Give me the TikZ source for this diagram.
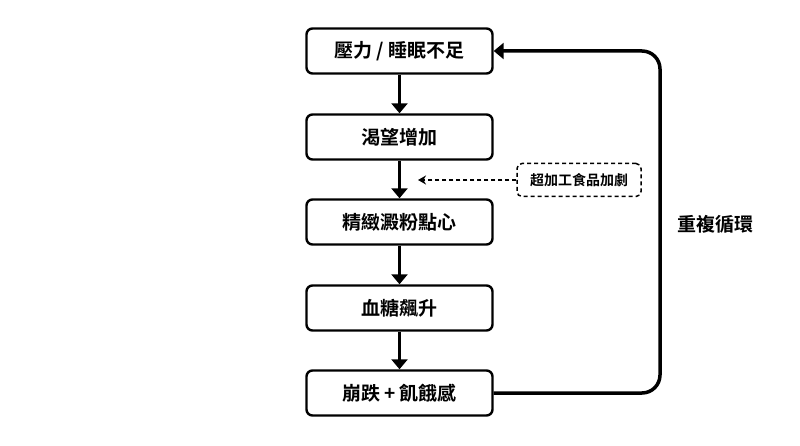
\documentclass[tikz,border=0pt]{standalone}
\usepackage{fontspec}
\setmainfont{Noto Sans CJK TC}[BoldFont={* Bold}]
\usetikzlibrary{arrows.meta}
\begin{document}
\begin{tikzpicture}[x=1pt,y=-1pt,
  box/.style={draw,line width=2.4pt,rounded corners=6pt,minimum width=186pt,minimum height=45pt,font=\fontsize{19}{22}\selectfont\bfseries},
  arr/.style={line width=3.5pt,-{Triangle[length=10pt,width=16pt]}},
  darr/.style={line width=1.5pt,dash pattern=on 4pt off 3pt,-{Stealth[length=8pt,width=9pt]}}]
\useasboundingbox (0,0) rectangle (800,446);
\node[box] (a) at (399.5,51) {壓力 / 睡眠不足};
\node[box] (b) at (399.5,137) {渴望增加};
\node[box] (c) at (399.5,222) {精緻澱粉點心};
\node[box] (d) at (399.5,308) {血糖飆升};
\node[box] (e) at (399.5,393) {崩跌 + 飢餓感};
\draw[arr] (a) -- (b);
\draw[arr] (b) -- (c);
\draw[arr] (c) -- (d);
\draw[arr] (d) -- (e);
\node[draw,dash pattern=on 4pt off 3pt,line width=1.5pt,rounded corners=5pt,minimum width=124pt,minimum height=33pt,font=\fontsize{14}{16}\selectfont\bfseries] (f) at (579,180) {超加工食品加劇};
\coordinate (t) at (418,180);
\draw[darr] (f) -- (t);
\draw[line width=3.5pt,rounded corners=18pt,-{Triangle[length=10pt,width=16pt]}] (e.east) -- (660,393) -- (660,51) -- (a.east);
\node[font=\fontsize{19}{22}\selectfont\bfseries] (l) at (715,224) {重複循環};
\end{tikzpicture}
\end{document}
